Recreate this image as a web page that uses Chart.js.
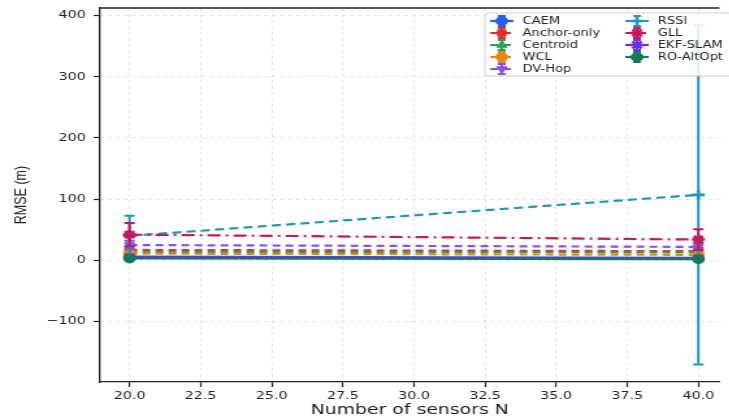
<!DOCTYPE html>
<html lang="en">
<head>
<meta charset="UTF-8" />
<title>RMSE vs number of sensors</title>
<script src="https://cdn.jsdelivr.net/npm/chart.js"></script>
<style>
  html, body { margin: 0; padding: 0; background: #fff; overflow: hidden; }
  /* figure is drawn narrow and stretched sideways, like the exported image */
  #wrap { width: 561px; height: 419px; transform: scaleX(1.3); transform-origin: 0 0; }
</style>
</head>
<body>
<div id="wrap"><canvas id="chartRmse" width="561" height="419"></canvas></div>
<script>
  // x values
  const sensorCounts = [20, 40];

  // mean RMSE (m) per method at N = 20, 40
  const rmseCaem     = [6, 4];
  const rmseAnchor   = [17, 15];
  const rmseCentroid = [14, 13];
  const rmseWcl      = [11, 9];
  const rmseDvHop    = [25, 22];
  const rmseRssi     = [40, 107];
  const rmseGll      = [42, 34];
  const rmseEkf      = [5, 3];
  const rmseRoAlt    = [3, 2];

  // standard deviation (error bar half-length)
  const errCaem     = [3, 2];
  const errAnchor   = [6, 5];
  const errCentroid = [4, 4];
  const errWcl      = [4, 3];
  const errDvHop    = [7, 6];
  const errRssi     = [33, 277];
  const errGll      = [19, 17];
  const errEkf      = [3, 2];
  const errRoAlt    = [2, 2];

  const xTicks = [20, 22.5, 25, 27.5, 30, 32.5, 35, 37.5, 40];
  const yTicks = [-100, 0, 100, 200, 300, 400];

  const series = [
    { name: 'CAEM',        values: rmseCaem,     errs: errCaem,     color: '#2460ee', style: 'circle',   dash: [] },
    { name: 'Anchor-only', values: rmseAnchor,   errs: errAnchor,   color: '#e0302c', style: 'rect',     dash: [6, 4] },
    { name: 'Centroid',    values: rmseCentroid, errs: errCentroid, color: '#2f9e55', style: 'triangle', dash: [6, 4] },
    { name: 'WCL',         values: rmseWcl,      errs: errWcl,      color: '#e6880f', style: 'circle',   dash: [6, 4] },
    { name: 'DV-Hop',      values: rmseDvHop,    errs: errDvHop,    color: '#8450ef', style: 'triangle', dash: [6, 4], rot: 180 },
    { name: 'RSSI',        values: rmseRssi,     errs: errRssi,     color: '#2295b8', style: 'cross',    dash: [7, 4] },
    { name: 'GLL',         values: rmseGll,      errs: errGll,      color: '#c4195a', style: 'star',     dash: [10, 4, 2, 4] },
    { name: 'EKF-SLAM',    values: rmseEkf,      errs: errEkf,      color: '#6a2ee8', style: 'crossRot', dash: [] },
    { name: 'RO-AltOpt',   values: rmseRoAlt,    errs: errRoAlt,    color: '#157a5c', style: 'circle',   dash: [] }
  ];

  const strokeOnly = s => s === 'cross' || s === 'crossRot' || s === 'star';

  const datasets = series.map((s, i) => ({
    label: s.name,
    data: sensorCounts.map((n, k) => ({ x: n, y: s.values[k] })),
    errors: s.errs,
    borderColor: s.color,
    backgroundColor: s.color,
    borderWidth: 2.2,
    borderDash: s.dash,
    pointStyle: s.style,
    pointRotation: s.rot || 0,
    pointRadius: strokeOnly(s.style) ? 5 : 4.5,
    pointBorderWidth: strokeOnly(s.style) ? 2.6 : 1,
    tension: 0,
    order: series.length - i   // later series end up on top
  }));

  // vertical error bars with caps, drawn just under each series
  const errorBars = {
    id: 'errorBars',
    beforeDatasetDraw(chart, args) {
      const ds = chart.data.datasets[args.index];
      if (!ds.errors) return;
      const { x, y } = chart.scales;
      const ctx = chart.ctx;
      const area = chart.chartArea;
      ctx.save();
      ctx.beginPath();
      ctx.rect(area.left, area.top, area.right - area.left, area.bottom - area.top);
      ctx.clip();
      ctx.strokeStyle = ds.borderColor;
      ctx.lineWidth = 2;
      ctx.setLineDash([]);
      ds.data.forEach((p, k) => {
        const px = x.getPixelForValue(p.x);
        const hi = y.getPixelForValue(p.y + ds.errors[k]);
        const lo = y.getPixelForValue(p.y - ds.errors[k]);
        ctx.beginPath();
        ctx.moveTo(px, hi); ctx.lineTo(px, lo);
        ctx.moveTo(px - 4, hi); ctx.lineTo(px + 4, hi);
        ctx.moveTo(px - 4, lo); ctx.lineTo(px + 4, lo);
        ctx.stroke();
      });
      ctx.restore();
    }
  };

  // top spine and the two-column legend box in the upper right
  const frameAndLegend = {
    id: 'frameAndLegend',
    afterDraw(chart) {
      const ctx = chart.ctx;
      const area = chart.chartArea;
      ctx.save();
      ctx.strokeStyle = '#222';
      ctx.lineWidth = 1.3;
      ctx.beginPath();
      ctx.moveTo(area.left, area.top);
      ctx.lineTo(area.right, area.top);
      ctx.stroke();

      const boxX = 373, boxY = area.top + 5, boxW = 200, boxH = 63;
      ctx.fillStyle = 'rgba(255,255,255,0.85)';
      ctx.strokeStyle = '#d0d0d0';
      ctx.lineWidth = 1;
      ctx.beginPath();
      ctx.roundRect(boxX, boxY, boxW, boxH, 3);
      ctx.fill();
      ctx.stroke();

      ctx.font = '10px "DejaVu Sans"';
      ctx.textBaseline = 'middle';
      ctx.textAlign = 'left';
      chart.data.datasets.forEach((ds, i) => {
        const col = i < 5 ? 0 : 1;
        const row = i < 5 ? i : i - 5;
        const cx = col === 0 ? 386 : 490;
        const tx = col === 0 ? 402 : 506;
        const cy = boxY + 8 + row * 12;

        ctx.strokeStyle = ds.borderColor;
        ctx.fillStyle = ds.borderColor;
        ctx.lineWidth = 2.2;
        ctx.setLineDash(ds.borderDash);
        ctx.beginPath();
        ctx.moveTo(cx - 9, cy); ctx.lineTo(cx + 9, cy);
        ctx.stroke();
        ctx.setLineDash([]);
        ctx.lineWidth = 2;
        ctx.beginPath();
        ctx.moveTo(cx, cy - 5); ctx.lineTo(cx, cy + 5);
        ctx.moveTo(cx - 3, cy - 5); ctx.lineTo(cx + 3, cy - 5);
        ctx.moveTo(cx - 3, cy + 5); ctx.lineTo(cx + 3, cy + 5);
        ctx.stroke();
        if (Chart.helpers && Chart.helpers.drawPoint) {
          ctx.lineWidth = ds.pointBorderWidth;
          Chart.helpers.drawPoint(ctx, {
            pointStyle: ds.pointStyle,
            rotation: ds.pointRotation,
            radius: ds.pointRadius,
            borderWidth: ds.pointBorderWidth
          }, cx, cy);
        }

        ctx.fillStyle = '#222';
        ctx.fillText(ds.label, tx, cy + 0.5);
      });
      ctx.restore();
    }
  };

  const ctxRmse = document.getElementById('chartRmse').getContext('2d');

  const gridStyle = {
    color: '#dcdcdc',
    lineWidth: 0.8,
    tickColor: '#222',
    tickLength: 5,
    tickWidth: 1.2,
    tickBorderDash: []
  };

  const chartRmse = new Chart(ctxRmse, {
    type: 'line',
    data: { datasets },
    options: {
      responsive: false,
      animation: false,
      layout: { padding: { top: 8, left: 0, right: 0, bottom: 0 } },
      plugins: { legend: { display: false }, tooltip: { enabled: false } },
      scales: {
        x: {
          type: 'linear',
          min: 18.965,
          max: 40.74,
          afterFit: s => { s.height = 37; s.paddingLeft = 0; s.paddingRight = 0; },
          afterBuildTicks: s => { s.ticks = xTicks.map(v => ({ value: v })); },
          ticks: {
            stepSize: 2.5,
            includeBounds: false,
            autoSkip: false,
            maxRotation: 0,
            padding: 3,
            color: '#222',
            font: { family: 'DejaVu Sans', size: 11 },
            callback: v => Number(v).toFixed(1)
          },
          grid: gridStyle,
          border: { color: '#222', width: 1.3, dash: [3, 3] },
          title: {
            display: true,
            text: 'Number of sensors N',
            color: '#222',
            font: { family: 'DejaVu Sans', size: 14.5 },
            padding: { top: 0, bottom: 0 }
          }
        },
        y: {
          min: -198.7,
          max: 412.2,
          afterFit: s => { s.width = 77; s.paddingTop = 0; s.paddingBottom = 0; },
          afterBuildTicks: s => { s.ticks = yTicks.map(v => ({ value: v })); },
          ticks: {
            stepSize: 100,
            includeBounds: false,
            padding: 6,
            color: '#222',
            font: { family: 'DejaVu Sans', size: 11 },
            callback: v => v < 0 ? '\u2212' + Math.abs(v) : String(v)
          },
          grid: gridStyle,
          border: { color: '#222', width: 1.3, dash: [3, 3] },
          title: {
            display: true,
            text: 'RMSE (m)',
            color: '#222',
            font: { family: 'Liberation Sans', size: 12.5 },
            padding: { top: 9, bottom: 0 }
          }
        }
      }
    },
    plugins: [errorBars, frameAndLegend]
  });
</script>
</body>
</html>
